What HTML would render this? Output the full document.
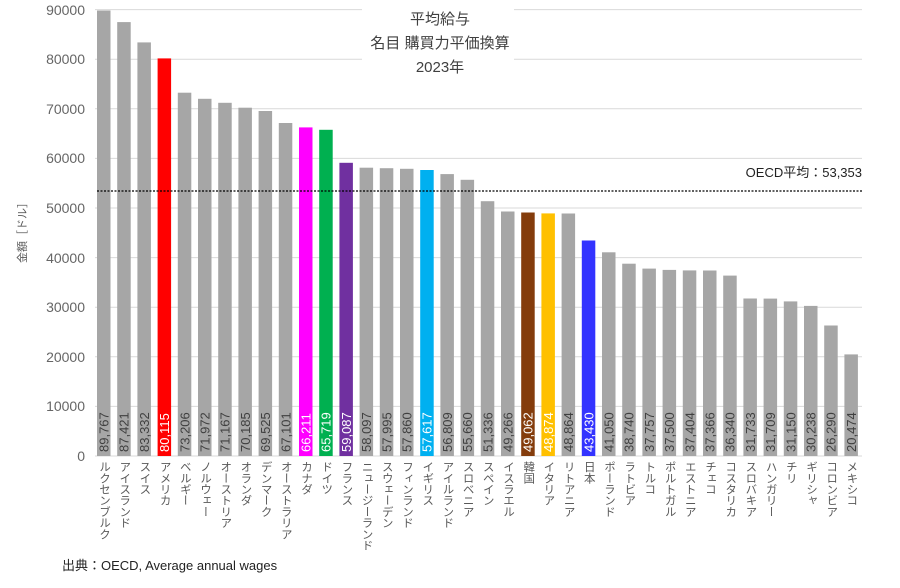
<!DOCTYPE html>
<html><head><meta charset="utf-8"><style>
html,body{margin:0;padding:0;background:#fff;}
#w{position:relative;width:900px;height:588px;overflow:hidden;}
svg{position:absolute;left:0;top:0;display:block;font-family:"Liberation Sans","Noto Sans CJK JP",sans-serif;}
.c{position:absolute;top:461px;writing-mode:vertical-rl;text-orientation:upright;font-family:"Liberation Sans","Noto Sans CJK JP",sans-serif;font-size:11.5px;line-height:14px;letter-spacing:-0.3px;color:#595959;width:14px;white-space:nowrap;}
</style></head><body><div id="w">
<svg width="900" height="588" viewBox="0 0 900 588" xmlns="http://www.w3.org/2000/svg">
<g stroke="#d9d9d9" stroke-width="1">
<line x1="95" x2="862" y1="406.4" y2="406.4"/><line x1="95" x2="862" y1="356.8" y2="356.8"/>
<line x1="95" x2="862" y1="307.2" y2="307.2"/><line x1="95" x2="862" y1="257.6" y2="257.6"/>
<line x1="95" x2="862" y1="208" y2="208"/><line x1="95" x2="862" y1="158.4" y2="158.4"/>
<line x1="95" x2="862" y1="108.8" y2="108.8"/><line x1="95" x2="862" y1="59.2" y2="59.2"/>
<line x1="95" x2="862" y1="9.6" y2="9.6"/><line x1="95" x2="862" y1="456" y2="456"/>
</g>
<g font-size="14" fill="#666" text-anchor="end">
<text x="85" y="461">0</text><text x="85" y="411">10000</text><text x="85" y="362">20000</text>
<text x="85" y="312">30000</text><text x="85" y="263">40000</text><text x="85" y="213">50000</text>
<text x="85" y="163">60000</text><text x="85" y="114">70000</text><text x="85" y="64">80000</text>
<text x="85" y="15">90000</text>
</g>
<text transform="translate(26,230) rotate(-90)" font-size="11" fill="#595959" text-anchor="middle">金額［ドル］</text>
<g font-size="13" fill="#404040">
<g transform="translate(97,0)"><rect y="10.5" width="13.5" height="445.5" fill="#a6a6a6"/><text transform="translate(11.5,452) rotate(-90)">89,767</text></g>
<g transform="translate(117.2,0)"><rect y="22.1" width="13.5" height="433.9" fill="#a6a6a6"/><text transform="translate(11.5,452) rotate(-90)">87,421</text></g>
<g transform="translate(137.4,0)"><rect y="42.4" width="13.5" height="413.6" fill="#a6a6a6"/><text transform="translate(11.5,452) rotate(-90)">83,332</text></g>
<g transform="translate(157.6,0)"><rect y="58.4" width="13.5" height="397.6" fill="#ff0000"/><text transform="translate(11.5,452) rotate(-90)" fill="#fff">80,115</text></g>
<g transform="translate(177.8,0)"><rect y="92.7" width="13.5" height="363.3" fill="#a6a6a6"/><text transform="translate(11.5,452) rotate(-90)">73,206</text></g>
<g transform="translate(198,0)"><rect y="98.8" width="13.5" height="357.2" fill="#a6a6a6"/><text transform="translate(11.5,452) rotate(-90)">71,972</text></g>
<g transform="translate(218.2,0)"><rect y="102.8" width="13.5" height="353.2" fill="#a6a6a6"/><text transform="translate(11.5,452) rotate(-90)">71,167</text></g>
<g transform="translate(238.4,0)"><rect y="107.7" width="13.5" height="348.3" fill="#a6a6a6"/><text transform="translate(11.5,452) rotate(-90)">70,185</text></g>
<g transform="translate(258.6,0)"><rect y="111" width="13.5" height="345" fill="#a6a6a6"/><text transform="translate(11.5,452) rotate(-90)">69,525</text></g>
<g transform="translate(278.8,0)"><rect y="123" width="13.5" height="333" fill="#a6a6a6"/><text transform="translate(11.5,452) rotate(-90)">67,101</text></g>
<g transform="translate(299,0)"><rect y="127.4" width="13.5" height="328.6" fill="#ff00ff"/><text transform="translate(11.5,452) rotate(-90)" fill="#fff">66,211</text></g>
<g transform="translate(319.2,0)"><rect y="129.8" width="13.5" height="326.2" fill="#00b050"/><text transform="translate(11.5,452) rotate(-90)" fill="#fff">65,719</text></g>
<g transform="translate(339.4,0)"><rect y="162.8" width="13.5" height="293.2" fill="#7030a0"/><text transform="translate(11.5,452) rotate(-90)" fill="#fff">59,087</text></g>
<g transform="translate(359.6,0)"><rect y="167.7" width="13.5" height="288.3" fill="#a6a6a6"/><text transform="translate(11.5,452) rotate(-90)">58,097</text></g>
<g transform="translate(379.8,0)"><rect y="168.2" width="13.5" height="287.8" fill="#a6a6a6"/><text transform="translate(11.5,452) rotate(-90)">57,995</text></g>
<g transform="translate(400,0)"><rect y="168.8" width="13.5" height="287.2" fill="#a6a6a6"/><text transform="translate(11.5,452) rotate(-90)">57,860</text></g>
<g transform="translate(420.2,0)"><rect y="170" width="13.5" height="286" fill="#00b0f0"/><text transform="translate(11.5,452) rotate(-90)" fill="#fff">57,617</text></g>
<g transform="translate(440.4,0)"><rect y="174.1" width="13.5" height="281.9" fill="#a6a6a6"/><text transform="translate(11.5,452) rotate(-90)">56,809</text></g>
<g transform="translate(460.6,0)"><rect y="179.8" width="13.5" height="276.2" fill="#a6a6a6"/><text transform="translate(11.5,452) rotate(-90)">55,660</text></g>
<g transform="translate(480.8,0)"><rect y="201.2" width="13.5" height="254.8" fill="#a6a6a6"/><text transform="translate(11.5,452) rotate(-90)">51,336</text></g>
<g transform="translate(501,0)"><rect y="211.5" width="13.5" height="244.5" fill="#a6a6a6"/><text transform="translate(11.5,452) rotate(-90)">49,266</text></g>
<g transform="translate(521.2,0)"><rect y="212.5" width="13.5" height="243.5" fill="#843c0c"/><text transform="translate(11.5,452) rotate(-90)" fill="#fff">49,062</text></g>
<g transform="translate(541.4,0)"><rect y="213.4" width="13.5" height="242.6" fill="#ffc000"/><text transform="translate(11.5,452) rotate(-90)" fill="#fff">48,874</text></g>
<g transform="translate(561.6,0)"><rect y="213.5" width="13.5" height="242.5" fill="#a6a6a6"/><text transform="translate(11.5,452) rotate(-90)">48,864</text></g>
<g transform="translate(581.8,0)"><rect y="240.5" width="13.5" height="215.5" fill="#3333ff"/><text transform="translate(11.5,452) rotate(-90)" fill="#fff">43,430</text></g>
<g transform="translate(602,0)"><rect y="252.3" width="13.5" height="203.7" fill="#a6a6a6"/><text transform="translate(11.5,452) rotate(-90)">41,050</text></g>
<g transform="translate(622.2,0)"><rect y="263.7" width="13.5" height="192.3" fill="#a6a6a6"/><text transform="translate(11.5,452) rotate(-90)">38,740</text></g>
<g transform="translate(642.4,0)"><rect y="268.6" width="13.5" height="187.4" fill="#a6a6a6"/><text transform="translate(11.5,452) rotate(-90)">37,757</text></g>
<g transform="translate(662.6,0)"><rect y="269.9" width="13.5" height="186.1" fill="#a6a6a6"/><text transform="translate(11.5,452) rotate(-90)">37,500</text></g>
<g transform="translate(682.8,0)"><rect y="270.4" width="13.5" height="185.6" fill="#a6a6a6"/><text transform="translate(11.5,452) rotate(-90)">37,404</text></g>
<g transform="translate(703,0)"><rect y="270.5" width="13.5" height="185.5" fill="#a6a6a6"/><text transform="translate(11.5,452) rotate(-90)">37,366</text></g>
<g transform="translate(723.2,0)"><rect y="275.6" width="13.5" height="180.4" fill="#a6a6a6"/><text transform="translate(11.5,452) rotate(-90)">36,340</text></g>
<g transform="translate(743.4,0)"><rect y="298.5" width="13.5" height="157.5" fill="#a6a6a6"/><text transform="translate(11.5,452) rotate(-90)">31,733</text></g>
<g transform="translate(763.6,0)"><rect y="298.6" width="13.5" height="157.4" fill="#a6a6a6"/><text transform="translate(11.5,452) rotate(-90)">31,709</text></g>
<g transform="translate(783.8,0)"><rect y="301.4" width="13.5" height="154.6" fill="#a6a6a6"/><text transform="translate(11.5,452) rotate(-90)">31,150</text></g>
<g transform="translate(804,0)"><rect y="305.9" width="13.5" height="150.1" fill="#a6a6a6"/><text transform="translate(11.5,452) rotate(-90)">30,238</text></g>
<g transform="translate(824.2,0)"><rect y="325.5" width="13.5" height="130.5" fill="#a6a6a6"/><text transform="translate(11.5,452) rotate(-90)">26,290</text></g>
<g transform="translate(844.4,0)"><rect y="354.4" width="13.5" height="101.6" fill="#a6a6a6"/><text transform="translate(11.5,452) rotate(-90)">20,474</text></g>
</g>
<rect x="362" y="0" width="152" height="80" fill="#fff"/>
<g font-size="15" fill="#404040" text-anchor="middle">
<text x="440" y="24">平均給与</text><text x="440" y="48">名目 購買力平価換算</text><text x="440" y="72">2023年</text>
</g>
<line x1="97" x2="862" y1="191" y2="191" stroke="#000" stroke-width="1.2" stroke-dasharray="2,1.5"/>
<text x="862" y="177" font-size="13" fill="#222" text-anchor="end">OECD平均：53,353</text>
<text x="62" y="570" font-size="13" fill="#222">出典：OECD, Average annual wages</text>
</svg>
<div class="c" style="left:97px">ルクセンブルク</div>
<div class="c" style="left:117.2px">アイスランド</div>
<div class="c" style="left:137.4px">スイス</div>
<div class="c" style="left:157.6px">アメリカ</div>
<div class="c" style="left:177.8px">ベルギー</div>
<div class="c" style="left:198px">ノルウェー</div>
<div class="c" style="left:218.2px">オーストリア</div>
<div class="c" style="left:238.4px">オランダ</div>
<div class="c" style="left:258.6px">デンマーク</div>
<div class="c" style="left:278.8px">オーストラリア</div>
<div class="c" style="left:299px">カナダ</div>
<div class="c" style="left:319.2px">ドイツ</div>
<div class="c" style="left:339.4px">フランス</div>
<div class="c" style="left:359.6px">ニュージーランド</div>
<div class="c" style="left:379.8px">スウェーデン</div>
<div class="c" style="left:400px">フィンランド</div>
<div class="c" style="left:420.2px">イギリス</div>
<div class="c" style="left:440.4px">アイルランド</div>
<div class="c" style="left:460.6px">スロベニア</div>
<div class="c" style="left:480.8px">スペイン</div>
<div class="c" style="left:501px">イスラエル</div>
<div class="c" style="left:521.2px">韓国</div>
<div class="c" style="left:541.4px">イタリア</div>
<div class="c" style="left:561.6px">リトアニア</div>
<div class="c" style="left:581.8px">日本</div>
<div class="c" style="left:602px">ポーランド</div>
<div class="c" style="left:622.2px">ラトビア</div>
<div class="c" style="left:642.4px">トルコ</div>
<div class="c" style="left:662.6px">ポルトガル</div>
<div class="c" style="left:682.8px">エストニア</div>
<div class="c" style="left:703px">チェコ</div>
<div class="c" style="left:723.2px">コスタリカ</div>
<div class="c" style="left:743.4px">スロバキア</div>
<div class="c" style="left:763.6px">ハンガリー</div>
<div class="c" style="left:783.8px">チリ</div>
<div class="c" style="left:804px">ギリシャ</div>
<div class="c" style="left:824.2px">コロンビア</div>
<div class="c" style="left:844.4px">メキシコ</div>
</div></body></html>
